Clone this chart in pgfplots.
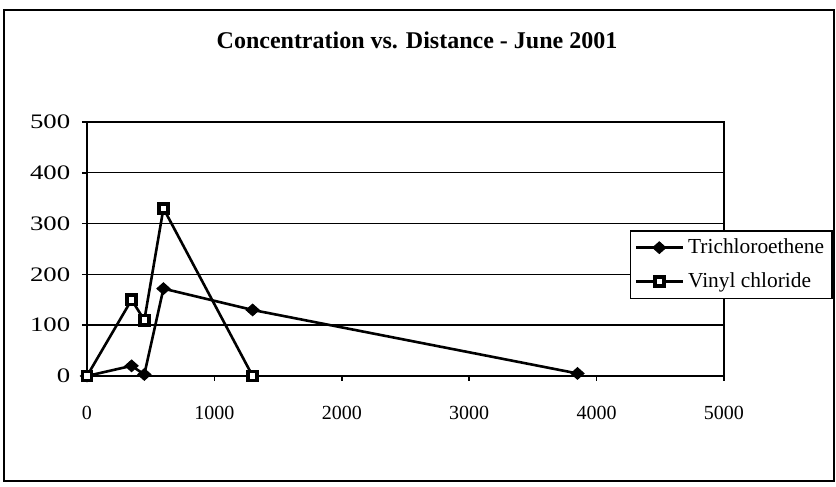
\documentclass[border=0pt]{standalone}
\usepackage{fontspec}
\setmainfont{Liberation Serif}
\usepackage{pgfplots}
\pgfplotsset{compat=1.18}
\begin{document}
\begin{tikzpicture}
\useasboundingbox (0,0) rectangle (418pt,243.5pt);
\draw[line width=0.9pt] (2pt,3pt) rectangle (417pt,238.5pt);
\node[font=\fontsize{12}{14}\selectfont\bfseries] at (208.5pt,223.5pt) {Concentration vs. Distance - June 2001};
\begin{axis}[
 at={(43.5pt,55.5pt)}, anchor=south west,
 scale only axis, width=318.5pt, height=127pt,
 xmin=0,xmax=5000,ymin=0,ymax=500,
 clip=false,
 xtick={0,1000,...,5000}, ytick={0,100,...,500},
 ymajorgrids, grid style={black, line width=0.7pt},
 axis line style={line width=1pt},
 tick align=outside, major tick length=2.5pt, tick style={black, line width=0.8pt},
 xtick pos=bottom, ytick pos=left,
 /pgf/number format/assume math mode=true,
 /pgf/number format/1000 sep={},
 xticklabel style={font=\fontsize{10}{12}\selectfont, yshift=-9pt},
 yticklabel style={font=\fontsize{10.3}{12}\selectfont, xscale=1.3, xshift=-1pt},
 legend style={at={(0.852,0.575)}, anchor=north west, draw=black, line width=0.8pt, fill=white, font=\fontsize{10.7}{12}\selectfont, inner xsep=2pt, inner ysep=2pt, row sep=4pt},
 legend cell align=left,
 legend image code/.code={\draw[mark repeat=2, mark phase=2, #1] plot coordinates {(0pt,0pt) (11.75pt,0pt) (23.5pt,0pt)};},
]
\addplot[black, line width=1.3pt, mark=diamond*, mark size=2.9pt, mark options={solid, xscale=1.5, fill=black, line width=0.5pt}] coordinates {
(0,0) (350,20) (450,3) (600,172) (1300,130) (3850,5)};
\addlegendentry{Trichloroethene}
\addplot[black, line width=1.3pt, mark=square*, mark size=2.3pt, mark options={solid, fill=white, line width=1.8pt}] coordinates {
(0,0) (350,150) (450,110) (600,330) (1300,0)};
\addlegendentry{Vinyl chloride}
\end{axis}
\end{tikzpicture}
\end{document}
